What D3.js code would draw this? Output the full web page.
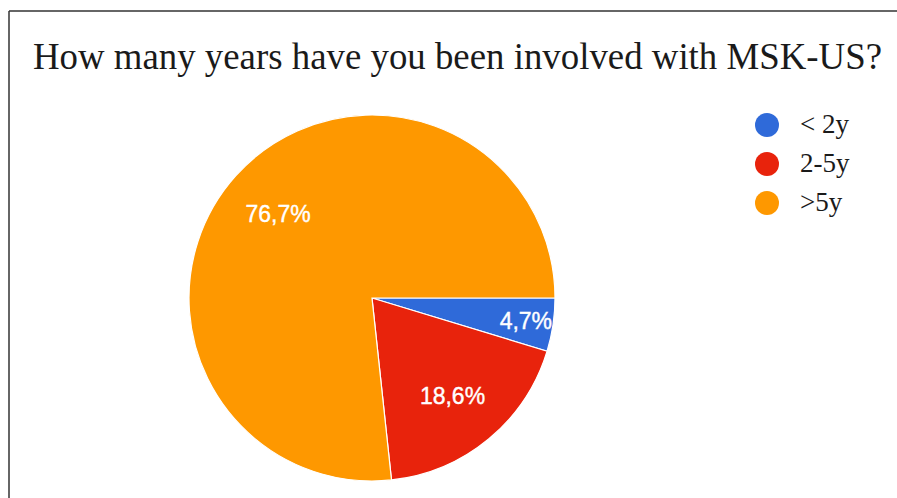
<!DOCTYPE html>
<html>
<head>
<meta charset="utf-8">
<script src="https://cdn.jsdelivr.net/npm/d3@7"></script>
<style>
  body { margin:0; background:#fff; }
  svg { display:block; }
</style>
</head>
<body>
<div id="plot"></div>
<script>
// chart data
var categories = ['< 2y', '2-5y', '>5y'];
var values = [4.7, 18.6, 76.7];
var colors = ['#2f6ad9', '#e8230c', '#fe9800'];
var title = 'How many years have you been involved with MSK-US?';

var width = 897, height = 498;

var svg = d3.select('#plot')
  .append('svg')
  .attr('width', width)
  .attr('height', height);

// frame (top and left edges visible)
svg.append('line').attr('x1', 9).attr('y1', 11).attr('x2', width).attr('y2', 11)
  .attr('stroke', '#333').attr('stroke-width', 1.5);
svg.append('line').attr('x1', 9).attr('y1', 11).attr('x2', 9).attr('y2', height)
  .attr('stroke', '#333').attr('stroke-width', 1.5);

// title
var t = svg.append('text')
  .attr('x', 33)
  .attr('y', 69)
  .attr('font-family', '"Liberation Serif", "Times New Roman", serif')
  .attr('font-size', 38)
  .attr('fill', '#1a1a1a')
  .text(title);
if (t.node().getComputedTextLength() > 0) t.attr('textLength', 849).attr('lengthAdjust', 'spacingAndGlyphs');

// pie
var cx = 372, cy = 298, radius = 183;
var g = svg.append('g').attr('transform', 'translate(' + cx + ',' + cy + ')');

var pie = d3.pie()
  .sort(null)
  .startAngle(Math.PI / 2)
  .endAngle(Math.PI / 2 + 2 * Math.PI)
  .value(function(d) { return d; });

var arc = d3.arc().innerRadius(0).outerRadius(radius);

var arcs = pie(values);

g.selectAll('path.slice')
  .data(arcs)
  .enter()
  .append('path')
  .attr('class', 'slice')
  .attr('d', arc)
  .attr('fill', function(d, i) { return colors[i]; })
  .attr('stroke', '#fff')
  .attr('stroke-width', 1.2);

var fmt = function(v) { return d3.format('.1f')(v).replace('.', ',') + '%'; };

// labels: small slices get pushed towards the rim
g.selectAll('text.lbl')
  .data(arcs)
  .enter()
  .append('text')
  .attr('class', 'lbl')
  .attr('transform', function(d) {
    var span = d.endAngle - d.startAngle;
    var r = span < 0.4 ? radius * 0.85 : radius * 0.69;
    var a = (d.startAngle + d.endAngle) / 2;
    return 'translate(' + (r * Math.sin(a)) + ',' + (-r * Math.cos(a)) + ')';
  })
  .attr('dy', '0.36em')
  .attr('text-anchor', 'middle')
  .attr('font-family', '"Liberation Sans", Arial, sans-serif')
  .attr('font-size', 23)
  .attr('fill', '#fff')
  .attr('stroke', '#fff')
  .attr('stroke-width', 0.4)
  .text(function(d) { return fmt(d.value); });

// legend
var legend = svg.append('g').attr('transform', 'translate(767,125)');
var item = legend.selectAll('g')
  .data(categories)
  .enter()
  .append('g')
  .attr('transform', function(d, i) { return 'translate(0,' + (i * 39) + ')'; });

item.append('circle')
  .attr('r', 12)
  .attr('fill', function(d, i) { return colors[i]; });

item.append('text')
  .attr('x', 33)
  .attr('y', 8)
  .attr('font-family', '"Liberation Serif", "Times New Roman", serif')
  .attr('font-size', 27)
  .attr('fill', '#1a1a1a')
  .text(function(d) { return d; });
</script>
</body>
</html>
